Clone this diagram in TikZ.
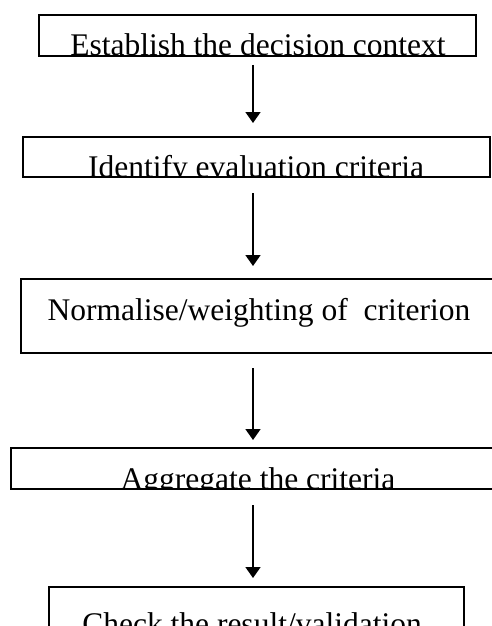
\documentclass[tikz,border=0pt]{standalone}
\usepackage{fontspec}
\setmainfont{Liberation Serif}
\usetikzlibrary{arrows.meta}
\tikzset{
  box/.style={draw=black, line width=1.6pt, rectangle, inner sep=0pt, outer sep=0pt, anchor=north west},
  lbl/.style={inner sep=0pt, outer sep=0pt, anchor=base, font=\fontsize{31.5}{36}\selectfont},
  flow/.style={line width=1.7pt, -{Triangle[width=15pt,length=11pt]}},
}
\begin{document}
\begin{tikzpicture}[x=1pt,y=-1pt]
\useasboundingbox (0,0) rectangle (492,626);
\coordinate (ax) at (253,0);
% boxes
\node[box, minimum width=437pt, minimum height=41pt] (b1) at (39,15) {};
\node[box, minimum width=467pt, minimum height=40pt] (b2) at (23,137) {};
\node[box, minimum width=473pt, minimum height=74pt] (b3) at (21,279) {};
\node[box, minimum width=485pt, minimum height=41pt] (b4) at (11,448) {};
\node[box, minimum width=415pt, minimum height=53pt] (b5) at (49,587) {};
% texts, clipped by their boxes
\begin{scope}
\clip (b1.north west) rectangle (b1.south east);
\node[lbl] (t1) at (258,56) {Establish the decision context};
\end{scope}
\begin{scope}
\clip (b2.north west) rectangle (b2.south east);
\node[lbl] (t2) at (256,177) {Identify evaluation criteria};
\end{scope}
\begin{scope}
\clip (b3.north west) rectangle (b3.south east);
\node[lbl] (t3) at (259,320) {Normalise/weighting of\ \ criterion};
\end{scope}
\begin{scope}
\clip (b4.north west) rectangle (b4.south east);
\node[lbl] (t4) at (258,489) {Aggregate the criteria};
\end{scope}
\begin{scope}
\clip (b5.north west) rectangle (b5.south east);
\node[lbl] (t5) at (252,634) {Check the result/validation};
\end{scope}
% redraw box borders over the text
\foreach \b in {b1,b2,b3,b4,b5}{
  \draw[line width=1.6pt] (\b.north west) rectangle (\b.south east);
}
% arrows
\draw[flow, shorten <=9pt, shorten >=14pt] (b1.south -| ax) -- (b2.north -| ax);
\draw[flow, shorten <=16pt, shorten >=13pt] (b2.south -| ax) -- (b3.north -| ax);
\draw[flow, shorten <=15pt, shorten >=8pt] (b3.south -| ax) -- (b4.north -| ax);
\draw[flow, shorten <=16pt, shorten >=9pt] (b4.south -| ax) -- (b5.north -| ax);
\end{tikzpicture}
\end{document}
